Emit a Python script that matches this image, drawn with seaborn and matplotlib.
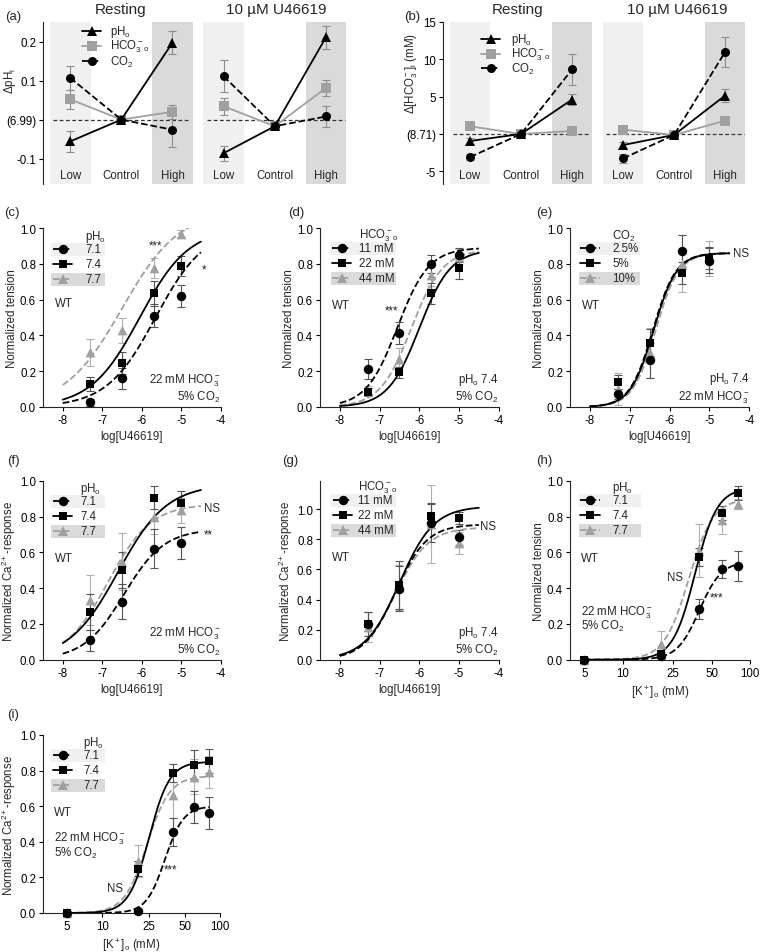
import numpy as np
import matplotlib.pyplot as plt
import matplotlib.transforms as mtransforms
from matplotlib.lines import Line2D
from matplotlib.patches import Rectangle
import seaborn as sns

# ---------------- data ----------------
CATS = ["Low", "Control", "High"]

# (a) delta pHi, order: pHo, HCO3-o, CO2
A_REST_PH = [-0.056, 0.0, 0.197]
A_REST_PH_SEM = [0.028, 0.0, 0.030]
A_REST_HCO3 = [0.052, 0.0, 0.020]
A_REST_HCO3_SEM = [0.024, 0.0, 0.018]
A_REST_CO2 = [0.107, 0.0, -0.026]
A_REST_CO2_SEM = [0.030, 0.0, 0.044]
A_U_PH = [-0.086, -0.017, 0.211]
A_U_PH_SEM = [0.019, 0.0, 0.029]
A_U_HCO3 = [0.034, -0.017, 0.081]
A_U_HCO3_SEM = [0.022, 0.0, 0.021]
A_U_CO2 = [0.111, -0.017, 0.008]
A_U_CO2_SEM = [0.041, 0.0, 0.027]

# (b) delta [HCO3-]i (mM)
B_REST_PH = [-0.94, 0.0, 4.61]
B_REST_PH_SEM = [0.45, 0.0, 0.76]
B_REST_HCO3 = [1.03, 0.0, 0.40]
B_REST_HCO3_SEM = [0.30, 0.0, 0.30]
B_REST_CO2 = [-3.09, 0.0, 8.64]
B_REST_CO2_SEM = [0.40, 0.0, 2.08]
B_U_PH = [-1.48, -0.13, 5.15]
B_U_PH_SEM = [0.40, 0.0, 0.90]
B_U_HCO3 = [0.58, -0.13, 1.79]
B_U_HCO3_SEM = [0.30, 0.0, 0.50]
B_U_CO2 = [-3.27, -0.13, 10.98]
B_U_CO2_SEM = [0.65, 0.0, 2.06]

# dose-response: log[U46619]
U_LOG = [-7.3, -6.5, -5.7, -5.0]
# fits: (top, logEC50, hill)
C_71 = [0.026, 0.16, 0.51, 0.62]
C_71_SEM = [0.02, 0.06, 0.065, 0.06]
C_74 = [0.13, 0.245, 0.635, 0.79]
C_74_SEM = [0.04, 0.06, 0.07, 0.056]
C_77 = [0.305, 0.43, 0.775, 0.967]
C_77_SEM = [0.075, 0.07, 0.056, 0.02]
C_FIT = [(1.0, -5.65, 0.7), (1.0, -6.05, 0.7), (1.1, -6.5, 0.6)]

D_11 = [0.212, 0.413, 0.797, 0.851]
D_11_SEM = [0.058, 0.063, 0.05, 0.04]
D_22 = [0.084, 0.194, 0.635, 0.775]
D_22_SEM = [0.02, 0.03, 0.06, 0.06]
D_44 = [0.09, 0.27, 0.737, 0.84]
D_44_SEM = [0.03, 0.06, 0.06, 0.04]
D_FIT = [(0.89, -6.55, 1.1), (0.88, -6.0, 1.1), (0.88, -6.2, 1.1)]

E_25 = [0.073, 0.26, 0.873, 0.817]
E_25_SEM = [0.03, 0.10, 0.09, 0.07]
E_5 = [0.138, 0.358, 0.749, 0.832]
E_5_SEM = [0.04, 0.075, 0.06, 0.06]
E_10 = [0.10, 0.30, 0.80, 0.83]
E_10_SEM = [0.09, 0.14, 0.16, 0.10]
E_FIT = [(0.86, -6.42, 1.5), (0.86, -6.40, 1.5), (0.86, -6.35, 1.5)]

F_71 = [0.108, 0.325, 0.62, 0.652]
F_71_SEM = [0.06, 0.10, 0.11, 0.09]
F_74 = [0.268, 0.50, 0.905, 0.877]
F_74_SEM = [0.10, 0.10, 0.065, 0.065]
F_77 = [0.335, 0.548, 0.80, 0.835]
F_77_SEM = [0.14, 0.16, 0.10, 0.07]
F_FIT = [(0.73, -6.45, 0.85), (0.98, -6.6, 0.7), (0.87, -6.85, 0.8)]

G_11 = [0.24, 0.473, 0.911, 0.815]
G_11_SEM = [0.08, 0.15, 0.13, 0.05]
G_22 = [0.235, 0.495, 0.955, 0.944]
G_22_SEM = [0.08, 0.16, 0.08, 0.04]
G_44 = [0.22, 0.48, 0.90, 0.773]
G_44_SEM = [0.10, 0.15, 0.26, 0.073]
G_FIT = [(0.90, -6.6, 1.1), (1.02, -6.5, 1.0), (0.88, -6.6, 1.05)]

# [K+]o (mM); fits: (top, EC50 mM, hill)
K_CONC = [5, 20, 40, 60, 80]
H_71 = [0.0, 0.02, 0.283, 0.507, 0.522]
H_71_SEM = [0.0, 0.01, 0.054, 0.05, 0.084]
H_74 = [0.0, 0.032, 0.574, 0.82, 0.932]
H_74_SEM = [0.0, 0.01, 0.05, 0.04, 0.04]
H_77 = [0.0, 0.09, 0.61, 0.78, 0.87]
H_77_SEM = [0.0, 0.07, 0.15, 0.08, 0.03]
H_FIT = [(0.55, 40, 5.0), (0.96, 37, 5.0), (0.90, 33, 4.5)]

I_71 = [0.0, 0.013, 0.456, 0.596, 0.563]
I_71_SEM = [0.0, 0.01, 0.08, 0.09, 0.09]
I_74 = [0.0, 0.25, 0.787, 0.833, 0.854]
I_74_SEM = [0.0, 0.04, 0.05, 0.08, 0.07]
I_77 = [0.0, 0.29, 0.663, 0.766, 0.79]
I_77_SEM = [0.0, 0.09, 0.13, 0.10, 0.09]
I_FIT = [(0.60, 34, 5.5), (0.85, 25, 5.0), (0.77, 24, 4.5)]

# ---------------- style ----------------
sns.set_theme(style="ticks")
plt.rcParams["font.family"] = ["Liberation Sans", "DejaVu Sans"]
plt.rcParams["mathtext.fontset"] = "custom"
plt.rcParams["mathtext.rm"] = "Liberation Sans"
plt.rcParams["mathtext.it"] = "Liberation Sans:italic"
plt.rcParams["mathtext.bf"] = "Liberation Sans:bold"
plt.rcParams["mathtext.default"] = "regular"
plt.rcParams["axes.unicode_minus"] = False

FS = 8.3
GRAY = "#a0a0a0"
LOW_BG = "#f0f0f0"
HIGH_BG = "#dadada"
HCO3 = r"HCO$_3^-$$_o$"

W, H = 760, 953
fig = plt.figure(figsize=(W / 100, H / 100), dpi=100)


def fx(x):
    return x / W


def fy(y):
    return 1 - y / H


def add_ax(l, t, r, b):
    return fig.add_axes([l / W, 1 - b / H, (r - l) / W, (b - t) / H])


def panel_label(x, y, s):
    fig.text(fx(x), fy(y), s, fontsize=9.5, ha="left", va="center")


def legend_rows(labels, styles, x_h0, x_h1, x_txt, y0, dy=15, header=None,
                bgs=None, bg_x=None):
    if header:
        fig.text(fx(x_txt), fy(y0 - 13), header, fontsize=FS, ha="left", va="center")
    for i, (lab, st) in enumerate(zip(labels, styles)):
        y = y0 + i * dy
        if bgs and bgs[i]:
            fig.add_artist(Rectangle((fx(bg_x[0]), fy(y + 6.5)), (bg_x[1] - bg_x[0]) / W,
                                     13 / H, transform=fig.transFigure,
                                     facecolor=bgs[i], edgecolor="none", zorder=0.5))
        xm = (x_h0 + x_h1) / 2
        fig.add_artist(Line2D([fx(x_h0), fx(xm), fx(x_h1)], [fy(y)] * 3,
                              transform=fig.transFigure, markevery=[1], zorder=3, **st))
        fig.text(fx(x_txt), fy(y), lab, fontsize=FS, ha="left", va="center", zorder=3)


def style_axes(ax):
    for s in ["top", "right"]:
        ax.spines[s].set_visible(False)
    for s in ["left", "bottom"]:
        ax.spines[s].set_linewidth(0.8)
    ax.tick_params(direction="out", length=3, width=0.8, pad=2, labelsize=FS,
                   colors="black")


# ---------------- (a) and (b) ----------------
POS_REST = [0, 1, 2]
POS_STIM = [3, 4, 5]
A_COLORS = ["black", GRAY, "black"]
A_LS = ["-", "-", "--"]
A_MK = ["^", "s", "o"]
A_LABELS = [r"pH$_o$", HCO3, r"CO$_2$"]


def delta_panel(ax, rest, rest_sem, stim, stim_sem, ylim, yticks, yticklabels):
    for c in (0, 3):
        ax.axvspan(c - 0.4, c + 0.4, color=LOW_BG, lw=0, zorder=0)
    for c in (2, 5):
        ax.axvspan(c - 0.4, c + 0.4, color=HIGH_BG, lw=0, zorder=0)
    ax.hlines([0, 0], [-0.33, 2.67], [2.35, 5.37], colors="#333333",
              linestyles=(0, (3, 2)), lw=0.9, zorder=1)
    for k in [1, 2, 0]:
        for pos, vals, sems in ((POS_REST, rest[k], rest_sem[k]),
                                (POS_STIM, stim[k], stim_sem[k])):
            keep = [i for i, s in enumerate(sems) if s > 0]
            ax.errorbar([pos[i] for i in keep], [vals[i] for i in keep],
                        yerr=[sems[i] for i in keep], fmt="none", ecolor="#8c8c8c",
                        elinewidth=0.8, capsize=3, capthick=0.8, zorder=2)
            sns.lineplot(x=pos, y=vals, ax=ax, color=A_COLORS[k], linestyle=A_LS[k],
                         marker=A_MK[k], markersize=6.5, markeredgewidth=0,
                         linewidth=1.3, zorder=3)
    ax.set_xlim(-0.53, 5.43)
    ax.set_ylim(*ylim)
    ax.set_yticks(yticks)
    ax.set_yticklabels(yticklabels)
    style_axes(ax)
    ax.spines["bottom"].set_visible(False)
    ax.set_xticks([])
    ax.set_xlabel("")
    trans = mtransforms.blended_transform_factory(ax.transData, ax.transAxes)
    for pos in (POS_REST, POS_STIM):
        for p, cat in zip(pos, CATS):
            ax.text(p, 0.056, cat, transform=trans, ha="center", va="center", fontsize=FS)


ax_a = add_ax(43, 23, 348, 185)
delta_panel(ax_a,
            [A_REST_PH, A_REST_HCO3, A_REST_CO2],
            [A_REST_PH_SEM, A_REST_HCO3_SEM, A_REST_CO2_SEM],
            [A_U_PH, A_U_HCO3, A_U_CO2],
            [A_U_PH_SEM, A_U_HCO3_SEM, A_U_CO2_SEM],
            (-0.165, 0.25), [0.2, 0.1, 0.0, -0.1], ["0.2", "0.1", "(6.99)", "-0.1"])
ax_a.set_ylabel("ΔpH$_i$", fontsize=FS)
ax_a.yaxis.set_label_coords(-0.082, 0.64)

ax_b = add_ax(443, 23, 747, 185)
delta_panel(ax_b,
            [B_REST_PH, B_REST_HCO3, B_REST_CO2],
            [B_REST_PH_SEM, B_REST_HCO3_SEM, B_REST_CO2_SEM],
            [B_U_PH, B_U_HCO3, B_U_CO2],
            [B_U_PH_SEM, B_U_HCO3_SEM, B_U_CO2_SEM],
            (-6.7, 15), [15, 10, 5, 0, -5], ["15", "10", "5", "(8.71)", "-5"])
ax_b.set_ylabel(r"Δ[HCO$_3^-$]$_i$ (mM)", fontsize=FS)
ax_b.yaxis.set_label_coords(-0.076, 0.69)

for xc, t in [(121, "Resting"), (276, "10 µM U46619"), (518, "Resting"), (677, "10 µM U46619")]:
    fig.text(fx(xc), fy(10), t, fontsize=11, ha="center", va="center")

a_styles = [dict(color=c, ls=l, marker=m, markersize=6.5, markeredgewidth=0, lw=1.3)
            for c, l, m in zip(A_COLORS, A_LS, A_MK)]
legend_rows(A_LABELS, a_styles, 82, 101, 110, 32)
legend_rows(A_LABELS, a_styles, 481, 500, 511, 40, dy=14.5)

panel_label(5, 17, "(a)")
panel_label(404, 17, "(b)")

# ---------------- dose-response panels ----------------
S_COLORS = ["black", "black", GRAY]
S_LS = ["--", "-", "--"]
S_MK = ["o", "s", "^"]
S_MS = [6.8, 6.3, 7.0]
S_ERR = ["#555555", "#555555", "#b0b0b0"]
ROW_BG = [LOW_BG, None, HIGH_BG]
S_STYLES = [dict(color=c, ls=l, marker=m, markersize=ms, markeredgewidth=0, lw=1.3)
            for c, l, m, ms in zip(S_COLORS, S_LS, S_MK, S_MS)]


def hill(lx, top, lec50, h):
    return top / (1 + 10 ** ((lec50 - lx) * h))


def dose_panel(ax, x, means, sems, fits, kplot=False, ytop=1.0, kmin=3.86):
    if kplot:
        ax.set_xscale("log")
        lx = np.linspace(np.log10(5), np.log10(81), 300)
        xc = 10 ** lx
    else:
        lx = np.linspace(-8, -4.5, 300)
        xc = lx
    for i in [2, 0, 1]:
        top, ec, h = fits[i]
        lec = np.log10(ec) if kplot else ec
        keep = [j for j, s in enumerate(sems[i]) if s > 0]
        ax.errorbar([x[j] for j in keep], [means[i][j] for j in keep],
                    yerr=[sems[i][j] for j in keep], fmt="none", ecolor=S_ERR[i],
                    elinewidth=0.8, capsize=3, capthick=0.8, zorder=2)
        sns.lineplot(x=xc, y=hill(lx, top, lec, h), ax=ax, color=S_COLORS[i],
                     linestyle=S_LS[i], linewidth=1.3, zorder=3)
        sns.scatterplot(x=x, y=means[i], ax=ax, color=S_COLORS[i], marker=S_MK[i],
                        s=S_MS[i] ** 2, linewidth=0, zorder=4, clip_on=False)
    ax.set_ylim(0, ytop)
    ax.set_yticks([0, 0.2, 0.4, 0.6, 0.8, 1.0])
    ax.set_yticklabels(["0.0", "0.2", "0.4", "0.6", "0.8", "1.0"])
    if kplot:
        ax.set_xlim(kmin, 100)
        ax.set_xticks([5, 10, 25, 50, 100])
        ax.set_xticklabels(["5", "10", "25", "50", "100"])
        ax.minorticks_off()
        ax.set_xlabel(r"[K$^+$]$_o$ (mM)", fontsize=FS, labelpad=3)
    else:
        ax.set_xlim(-8.5, -4)
        ax.set_xticks([-8, -7, -6, -5, -4])
        ax.set_xticklabels(["-8", "-7", "-6", "-5", "-4"])
        ax.set_xlabel("log[U46619]", fontsize=FS, labelpad=3)
    style_axes(ax)


def notes(ax, items):
    for s, x, y, ha in items:
        ax.text(x, y, s, fontsize=FS, ha=ha, va="center")


PH_LABELS = ["7.1", "7.4", "7.7"]
HCO_LABELS = ["11 mM", "22 mM", "44 mM"]
CO2_LABELS = ["2.5%", "5%", "10%"]
TENSION = "Normalized tension"
CA = r"Normalized Ca$^{2+}$-response"

# (c)
ax_c = add_ax(43, 229, 220.7, 408)
dose_panel(ax_c, U_LOG, [C_71, C_74, C_77], [C_71_SEM, C_74_SEM, C_77_SEM], C_FIT)
ax_c.set_ylabel(TENSION, fontsize=FS)
notes(ax_c, [("***", -5.66, 0.9, "center"), ("*", -4.42, 0.77, "center"),
             ("WT", -8.2, 0.58, "left"), ("22 mM HCO$_3^-$", -4.0, 0.155, "right"),
             ("5% CO$_2$", -4.0, 0.06, "right")])
legend_rows(PH_LABELS, S_STYLES, 53, 72, 85, 250, header=r"pH$_o$", bgs=ROW_BG, bg_x=(51, 105))

# (d)
ax_d = add_ax(320, 229, 498.7, 408)
dose_panel(ax_d, U_LOG, [D_11, D_22, D_44], [D_11_SEM, D_22_SEM, D_44_SEM], D_FIT)
ax_d.set_ylabel(TENSION, fontsize=FS)
notes(ax_d, [("***", -6.69, 0.54, "center"), ("WT", -8.2, 0.57, "left"),
             ("pH$_o$ 7.4", -4.0, 0.155, "right"), ("5% CO$_2$", -4.0, 0.06, "right")])
legend_rows(HCO_LABELS, S_STYLES, 332, 351, 359, 249, header=HCO3, bgs=ROW_BG, bg_x=(331, 396))

# (e)
ax_e = add_ax(570, 229, 749.3, 408)
dose_panel(ax_e, U_LOG, [E_25, E_5, E_10], [E_25_SEM, E_5_SEM, E_10_SEM], E_FIT)
ax_e.set_ylabel(TENSION, fontsize=FS)
notes(ax_e, [("NS", -4.4, 0.86, "left"), ("WT", -8.2, 0.57, "left"),
             ("pH$_o$ 7.4", -4.0, 0.16, "right"), ("22 mM HCO$_3^-$", -4.0, 0.06, "right")])
legend_rows(CO2_LABELS, S_STYLES, 580, 600, 612, 249, header=r"CO$_2$", bgs=ROW_BG, bg_x=(579, 640))

# (f)
ax_f = add_ax(43, 481.7, 220.7, 660.7)
dose_panel(ax_f, U_LOG, [F_71, F_74, F_77], [F_71_SEM, F_74_SEM, F_77_SEM], F_FIT)
ax_f.set_ylabel(CA, fontsize=FS)
notes(ax_f, [("NS", -4.43, 0.85, "left"), ("**", -4.42, 0.70, "left"),
             ("WT", -8.2, 0.57, "left"), ("22 mM HCO$_3^-$", -4.0, 0.15, "right"),
             ("5% CO$_2$", -4.0, 0.055, "right")])
legend_rows(PH_LABELS, S_STYLES, 53, 72, 80, 502, header=r"pH$_o$", bgs=ROW_BG, bg_x=(51, 105))

# (g)
ax_g = add_ax(320, 481.7, 498.7, 660.7)
dose_panel(ax_g, U_LOG, [G_11, G_22, G_44], [G_11_SEM, G_22_SEM, G_44_SEM], G_FIT, ytop=1.19)
ax_g.set_ylabel(CA, fontsize=FS)
notes(ax_g, [("NS", -4.46, 0.89, "left"), ("WT", -8.2, 0.68, "left"),
             ("pH$_o$ 7.4", -4.0, 0.185, "right"), ("5% CO$_2$", -4.0, 0.07, "right")])
legend_rows(HCO_LABELS, S_STYLES, 333, 352, 358, 501, header=HCO3, bgs=ROW_BG, bg_x=(331, 396))

# (h)
ax_h = add_ax(570, 481.7, 750, 660.7)
dose_panel(ax_h, K_CONC, [H_71, H_74, H_77], [H_71_SEM, H_74_SEM, H_77_SEM], H_FIT, kplot=True)
ax_h.set_ylabel(TENSION, fontsize=FS)
notes(ax_h, [("NS", 26, 0.46, "center"), ("***", 48.5, 0.35, "left"),
             ("WT", 4.72, 0.57, "left"), ("22 mM HCO$_3^-$", 4.72, 0.27, "left"),
             ("5% CO$_2$", 4.72, 0.19, "left")])
legend_rows(PH_LABELS, S_STYLES, 580, 600, 612, 501, header=r"pH$_o$", bgs=ROW_BG, bg_x=(579, 641))

# (i)
ax_i = add_ax(43, 736, 220, 914)
dose_panel(ax_i, K_CONC, [I_71, I_74, I_77], [I_71_SEM, I_74_SEM, I_77_SEM], I_FIT,
           kplot=True, kmin=3.13)
ax_i.set_ylabel(CA, fontsize=FS)
notes(ax_i, [("NS", 12.8, 0.14, "center"), ("***", 33.6, 0.246, "left"),
             ("WT", 3.9, 0.566, "left"), ("22 mM HCO$_3^-$", 3.9, 0.42, "left"),
             ("5% CO$_2$", 3.9, 0.34, "left")])
legend_rows(PH_LABELS, S_STYLES, 53, 72, 83, 756, header=r"pH$_o$", bgs=ROW_BG, bg_x=(51, 105))

for ax, w in [(ax_c, 177.7), (ax_d, 178.7), (ax_e, 179.3), (ax_f, 177.7),
              (ax_g, 178.7), (ax_h, 180), (ax_i, 177)]:
    ax.yaxis.set_label_coords(-25 / w, 0.5)

panel_label(4, 213, "(c)")
panel_label(288, 213, "(d)")
panel_label(536, 213, "(e)")
panel_label(7, 461, "(f)")
panel_label(282, 461, "(g)")
panel_label(536, 461, "(h)")
panel_label(7, 715, "(i)")

fig.savefig("out.png", dpi=100)
